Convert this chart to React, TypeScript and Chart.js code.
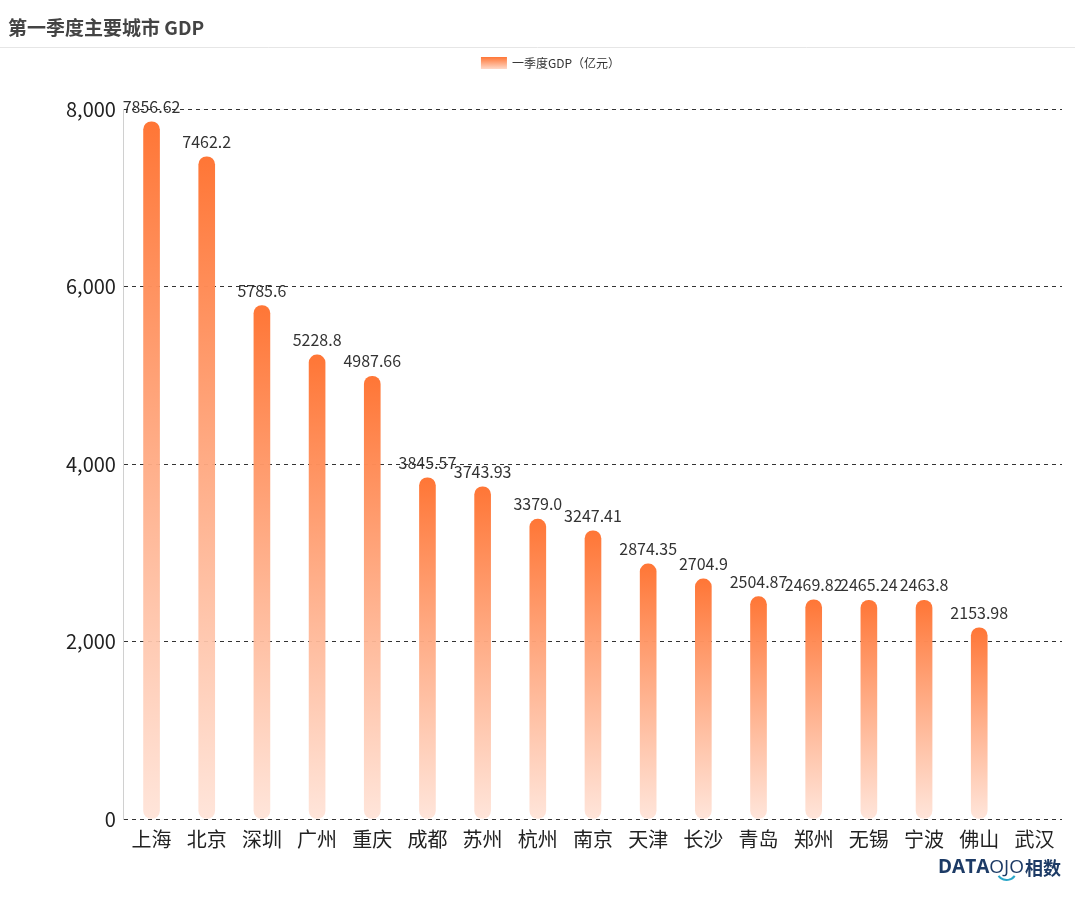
import React, { useEffect, useRef } from "react";
import { Chart, registerables } from "chart.js";

Chart.register(...registerables);

const TITLE = "第一季度主要城市 GDP";
const SERIES_NAME = "一季度GDP（亿元）";
const cities = ["上海", "北京", "深圳", "广州", "重庆", "成都", "苏州", "杭州", "南京", "天津", "长沙", "青岛", "郑州", "无锡", "宁波", "佛山", "武汉"];
const gdp: (number | null)[] = [7856.62, 7462.2, 5785.6, 5228.8, 4987.66, 3845.57, 3743.93, 3379.0, 3247.41, 2874.35, 2704.9, 2504.87, 2469.82, 2465.24, 2463.8, 2153.98, null];
const gdpLabels = ["7856.62", "7462.2", "5785.6", "5228.8", "4987.66", "3845.57", "3743.93", "3379.0", "3247.41", "2874.35", "2704.9", "2504.87", "2469.82", "2465.24", "2463.8", "2153.98", ""];

const FONT = "'Noto Sans CJK SC', 'Noto Sans', sans-serif";
const TOP_COLOR = "#ff7636";
const BOTTOM_COLOR = "rgba(255, 226, 214, 0.9)";

const decorPlugin = {
  id: "decor",
  beforeDraw(chart: any) {
    const ctx = chart.ctx;
    ctx.save();
    ctx.fillStyle = "#fff";
    ctx.fillRect(0, 0, chart.width, chart.height);
    // title
    ctx.fillStyle = "#444";
    ctx.font = `bold 19px ${FONT}`;
    ctx.textBaseline = "middle";
    ctx.textAlign = "left";
    ctx.fillText(TITLE, 8, 28);
    // separator
    ctx.strokeStyle = "#e6e6e6";
    ctx.lineWidth = 1;
    ctx.beginPath();
    ctx.moveTo(0, 47.5);
    ctx.lineTo(chart.width, 47.5);
    ctx.stroke();
    // legend
    const text = SERIES_NAME;
    ctx.font = `12px ${FONT}`;
    const tw = ctx.measureText(text).width;
    const bw = 26, bh = 12, gap = 5;
    const total = bw + gap + tw;
    const lx = chart.width / 2 - total / 2 + 13;
    const ly = 63;
    const g = ctx.createLinearGradient(0, ly - bh / 2, 0, ly + bh / 2);
    g.addColorStop(0, TOP_COLOR);
    g.addColorStop(1, "#ffd9c8");
    ctx.fillStyle = g;
    ctx.fillRect(lx, ly - bh / 2, bw, bh);
    ctx.fillStyle = "#333";
    ctx.fillText(text, lx + bw + gap, ly);
    // watermark
    let x = 938;
    const wy = 868;
    ctx.font = `bold 19px 'Open Sans', sans-serif`;
    ctx.fillStyle = "#1d3b66";
    ctx.fillText("DATA", x, wy);
    x += ctx.measureText("DATA").width;
    ctx.font = `19px 'Open Sans', sans-serif`;
    ctx.fillText("OJO", x, wy);
    const ojoW = ctx.measureText("OJO").width;
    ctx.strokeStyle = "#2aa6c8";
    ctx.lineWidth = 2;
    ctx.beginPath();
    ctx.arc(x + ojoW / 2, wy + 2, 10, 0.2 * Math.PI, 0.8 * Math.PI);
    ctx.stroke();
    x += ojoW + 1;
    ctx.font = `bold 18px ${FONT}`;
    ctx.fillStyle = "#1d3b66";
    ctx.fillText("相数", x, wy);
    ctx.restore();
  },
  afterDatasetsDraw(chart: any) {
    const ctx = chart.ctx;
    const meta = chart.getDatasetMeta(0);
    ctx.save();
    ctx.font = `16px ${FONT}`;
    ctx.fillStyle = "#333";
    ctx.textAlign = "center";
    ctx.textBaseline = "middle";
    meta.data.forEach((el: any, i: number) => {
      if (gdp[i] == null) return;
      ctx.fillText(gdpLabels[i], el.x, el.y - 15);
    });
    ctx.restore();
  },
};

export default function App() {
  const ref = useRef<HTMLCanvasElement | null>(null);
  useEffect(() => {
    document.body.style.margin = "0";
    const canvas = ref.current!;
    const chart = new Chart(canvas, {
      type: "bar",
      data: {
        labels: cities,
        datasets: [
          {
            label: SERIES_NAME,
            data: gdp,
            barThickness: 16,
            borderRadius: 8,
            borderSkipped: false,
            backgroundColor: (c: any) => {
              const ch = c.chart;
              const area = ch.chartArea;
              if (!area || c.type !== "data") return TOP_COLOR;
              const v = gdp[c.dataIndex];
              if (v == null) return TOP_COLOR;
              const top = ch.scales.y.getPixelForValue(v);
              const bottom = ch.scales.y.getPixelForValue(0);
              const g = ch.ctx.createLinearGradient(0, top, 0, bottom);
              g.addColorStop(0, TOP_COLOR);
              g.addColorStop(1, BOTTOM_COLOR);
              return g;
            },
          },
        ],
      },
      options: {
        animation: false,
        responsive: false,
        maintainAspectRatio: false,
        layout: { padding: { top: 109, left: 58, right: 13, bottom: 49 } },
        plugins: {
          legend: { display: false },
          title: { display: false },
          tooltip: { enabled: false },
        },
        scales: {
          x: {
            grid: { display: false },
            border: { display: false },
            ticks: { color: "#222", font: { size: 20, family: FONT }, padding: 0 },
          },
          y: {
            min: 0,
            max: 8000,
            ticks: {
              stepSize: 2000,
              color: "#222",
              font: { size: 20, family: FONT },
              padding: 8,
              callback: (v: any) => Number(v).toLocaleString("en-US"),
            },
            grid: { color: "#333", drawTicks: false, lineWidth: 1 },
            border: { display: true, color: "#d0d0d0", dash: [4, 4] },
          },
        },
      },
      plugins: [decorPlugin],
    });
    return () => chart.destroy();
  }, []);
  return <canvas ref={ref} width={1075} height={900} style={{ display: "block", width: 1075, height: 900 }} />;
}
